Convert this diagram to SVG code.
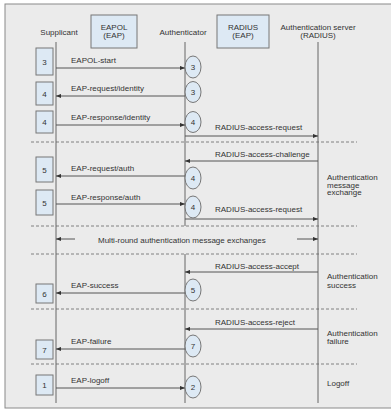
<svg xmlns="http://www.w3.org/2000/svg" width="391" height="410" viewBox="0 0 391 410">
<defs>
<style>
text{font-family:"Liberation Sans",Arial,sans-serif;font-size:8px;fill:#333}
.c{text-anchor:middle}
.life{stroke:#666;stroke-width:1;fill:none}
.msg{stroke:#555;stroke-width:1;fill:none}
.dash{stroke:#666;stroke-width:0.8;stroke-dasharray:3 2;fill:none}
.box{fill:#dde9f4;stroke:#777;stroke-width:1}
</style>
<marker id="ah" viewBox="0 0 6 6" refX="6" refY="3" markerWidth="5" markerHeight="5" orient="auto" markerUnits="userSpaceOnUse">
<path d="M0,0.5 L6,3 L0,5.5 Z" fill="#333"/>
</marker>
</defs>
<rect x="0" y="0" width="391" height="410" fill="#fff"/>
<rect x="5" y="4" width="400" height="404" fill="#ebebeb" stroke="#8a8a8a" stroke-width="1"/>

<g id="header">
<text class="c" x="59" y="35">Supplicant</text>
<g id="eapol"><rect class="box" x="91" y="15" width="46" height="33"/><text class="c" x="114" y="30">EAPOL</text><text class="c" x="114" y="38">(EAP)</text></g>
<text class="c" x="183" y="35">Authenticator</text>
<g id="radius"><rect class="box" x="217" y="15" width="52" height="33"/><text class="c" x="243" y="30">RADIUS</text><text class="c" x="243" y="38">(EAP)</text></g>
<text class="c" x="318" y="30">Authentication server</text>
<text class="c" x="318" y="38">(RADIUS)</text>
</g>

<g id="lifelines">
<line class="life" x1="56" y1="42" x2="56" y2="403"/>
<line class="life" x1="185" y1="42" x2="185" y2="226"/>
<line class="life" x1="185" y1="254" x2="185" y2="403"/>
<line class="life" x1="318" y1="42" x2="318" y2="403"/>
</g>

<g id="dividers">
<line class="dash" x1="31" y1="142" x2="357" y2="142"/>
<line class="dash" x1="31" y1="226" x2="357" y2="226"/>
<line class="dash" x1="31" y1="254" x2="357" y2="254"/>
<line class="dash" x1="31" y1="309" x2="357" y2="309"/>
<line class="dash" x1="31" y1="364" x2="357" y2="364"/>
</g>

<g id="connectors">
<line class="msg" x1="56" y1="68" x2="185" y2="68" marker-end="url(#ah)"/>
<line class="msg" x1="185" y1="96" x2="56" y2="96" marker-end="url(#ah)"/>
<line class="msg" x1="56" y1="125" x2="185" y2="125" marker-end="url(#ah)"/>
<line class="msg" x1="185" y1="136" x2="318" y2="136" marker-end="url(#ah)"/>
<line class="msg" x1="318" y1="161" x2="185" y2="161" marker-end="url(#ah)"/>
<line class="msg" x1="185" y1="176" x2="56" y2="176" marker-end="url(#ah)"/>
<line class="msg" x1="56" y1="204" x2="185" y2="204" marker-end="url(#ah)"/>
<line class="msg" x1="185" y1="219" x2="318" y2="219" marker-end="url(#ah)"/>
<line class="msg" x1="75" y1="239" x2="56" y2="239" marker-end="url(#ah)"/>
<line class="msg" x1="297" y1="239" x2="318" y2="239" marker-end="url(#ah)"/>
<line class="msg" x1="318" y1="272" x2="185" y2="272" marker-end="url(#ah)"/>
<line class="msg" x1="185" y1="293" x2="56" y2="293" marker-end="url(#ah)"/>
<line class="msg" x1="318" y1="329" x2="185" y2="329" marker-end="url(#ah)"/>
<line class="msg" x1="185" y1="349" x2="56" y2="349" marker-end="url(#ah)"/>
<line class="msg" x1="56" y1="388" x2="185" y2="388" marker-end="url(#ah)"/>
</g>

<g id="labels">
<text x="71" y="63">EAPOL-start</text>
<text x="71" y="91">EAP-request/identity</text>
<text x="71" y="120">EAP-response/identity</text>
<text x="215" y="130">RADIUS-access-request</text>
<text x="215" y="157">RADIUS-access-challenge</text>
<text x="71" y="171">EAP-request/auth</text>
<text x="71" y="200">EAP-response/auth</text>
<text x="215" y="212">RADIUS-access-request</text>
<text x="98" y="243">Multi-round authentication message exchanges</text>
<text x="215" y="269">RADIUS-access-accept</text>
<text x="71" y="288">EAP-success</text>
<text x="215" y="325">RADIUS-access-reject</text>
<text x="71" y="344">EAP-failure</text>
<text x="71" y="383">EAP-logoff</text>
<text x="327" y="180">Authentication</text>
<text x="327" y="187.5">message</text>
<text x="327" y="195">exchange</text>
<text x="327" y="279">Authentication</text>
<text x="327" y="288">success</text>
<text x="327" y="336">Authentication</text>
<text x="327" y="344">failure</text>
<text x="327" y="386">Logoff</text>
</g>

<g id="supplicant-states">
<g id="s1"><rect class="box" x="36" y="48" width="17" height="27"/><text class="c" x="44.5" y="64.5">3</text></g>
<g id="s2"><rect class="box" x="36" y="82" width="17" height="23"/><text class="c" x="44.5" y="96.5">4</text></g>
<g id="s3"><rect class="box" x="36" y="111" width="17" height="22"/><text class="c" x="44.5" y="125">4</text></g>
<g id="s4"><rect class="box" x="36" y="157" width="17" height="25"/><text class="c" x="44.5" y="172.5">5</text></g>
<g id="s5"><rect class="box" x="36" y="190" width="17" height="25"/><text class="c" x="44.5" y="205.5">5</text></g>
<g id="s6"><rect class="box" x="36" y="284" width="17" height="19"/><text class="c" x="44.5" y="296.5">6</text></g>
<g id="s7"><rect class="box" x="36" y="340" width="17" height="19"/><text class="c" x="44.5" y="352.5">7</text></g>
<g id="s8"><rect class="box" x="36" y="375" width="17" height="20"/><text class="c" x="44.5" y="388">1</text></g>
</g>

<g id="authenticator-states">
<g id="a1"><ellipse class="box" cx="193" cy="67" rx="8" ry="11"/><text class="c" x="193" y="70">3</text></g>
<g id="a2"><ellipse class="box" cx="193" cy="92" rx="8" ry="10.5"/><text class="c" x="193" y="95">3</text></g>
<g id="a3"><ellipse class="box" cx="193" cy="122" rx="8" ry="10.5"/><text class="c" x="193" y="125">4</text></g>
<g id="a4"><ellipse class="box" cx="193" cy="178" rx="8" ry="11"/><text class="c" x="193" y="181">4</text></g>
<g id="a5"><ellipse class="box" cx="193" cy="207" rx="8" ry="11"/><text class="c" x="193" y="210">4</text></g>
<g id="a6"><ellipse class="box" cx="193" cy="290" rx="8" ry="11"/><text class="c" x="193" y="293">5</text></g>
<g id="a7"><ellipse class="box" cx="193" cy="346" rx="8" ry="11"/><text class="c" x="193" y="349">7</text></g>
<g id="a8"><ellipse class="box" cx="193" cy="387" rx="8" ry="11"/><text class="c" x="193" y="390">2</text></g>
</g>
</svg>
